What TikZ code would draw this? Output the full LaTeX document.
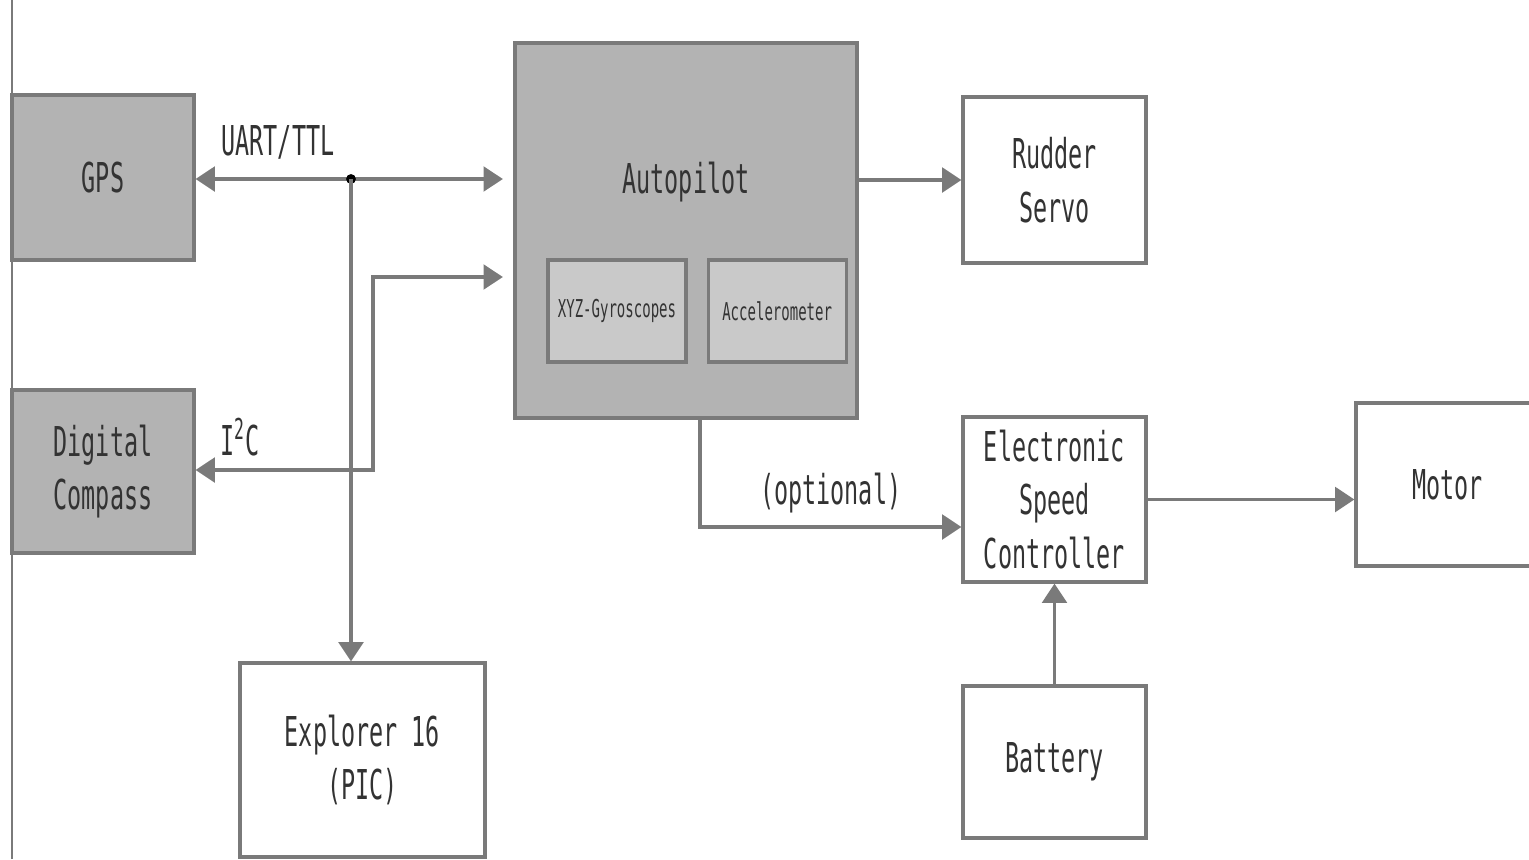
\documentclass[tikz,border=0pt]{standalone}
\usepackage{fontspec}
\setmainfont[FakeStretch=0.57]{DejaVu Sans Mono}
\usepackage{xcolor}
\usepackage{tikz}
\usetikzlibrary{arrows.meta, positioning}

\definecolor{boxgray}{HTML}{B3B3B3}
\definecolor{subgray}{HTML}{C9C9C9}
\definecolor{edgegray}{HTML}{7A7A7A}
\definecolor{textgray}{HTML}{333333}

\tikzset{
    block/.style={draw=edgegray, line width=0.9pt, minimum width=1.83cm, minimum height=1.65cm, inner sep=0pt, align=center, text=textgray, font=\fontsize{11.7pt}{15.3pt}\selectfont},
    dark_block/.style={block, fill=boxgray},
    sub_block/.style={block, fill=subgray, minimum width=1.38cm, minimum height=1.02cm, font=\fontsize{7pt}{8pt}\selectfont},
    label_text/.style={text=textgray, font=\fontsize{11.7pt}{15.3pt}\selectfont},
    link/.style={draw=edgegray, line width=1pt, -{Triangle[length=5.5pt, width=7pt]}},
}

\begin{document}
\begin{tikzpicture}

    \useasboundingbox (0,0) rectangle (15.29,8.59);

    % Page edge
    \draw[edgegray, line width=0.8pt] (0.12,0) -- (0.12,8.59);

    % Sensors
    \node[dark_block, minimum width=1.82cm] (gps) at (1.03,6.815) {GPS};
    \node[dark_block, minimum width=1.82cm, minimum height=1.63cm] (compass) at (1.03,3.875) {Digital\\Compass};

    % Autopilot with its inner parts
    \node[dark_block, minimum width=3.42cm, minimum height=3.75cm, label={[label_text, anchor=center, yshift=-1.41cm]north:Autopilot}] (autopilot) at (6.86,6.285) {};
    \node[sub_block] (gyro) at (6.17,5.48) {XYZ-Gyroscopes};
    \node[sub_block, right=0.19cm of gyro] (accel) {Accelerometer};

    % Actuators and power
    \node[block, minimum height=1.66cm] (rudder_servo) at (10.545,6.79) {Rudder\\Servo};
    \node[block] (esc) at (10.545,3.595) {Electronic\\Speed\\Controller};
    \node[block, minimum height=1.63cm] (motor) at (14.475,3.745) {Motor};
    \node[block, minimum height=1.52cm] (battery) at (10.545,0.97) {Battery};

    % Programmer board
    \node[block, minimum width=2.45cm, minimum height=1.94cm] (explorer) at (3.625,0.99) {Explorer 16\\(PIC)};

    % Bus labels
    \node[label_text] (uart_label) at (2.78,7.17) {UART/TTL};
    \node[label_text] (i2c_label) at (2.40,4.22) {I\textsuperscript{2}C};

    % Bus points
    \coordinate (tap) at (3.51,6.80);
    \coordinate (i2c_bend) at (3.73,5.82);

    % Arrows
    \draw[link, {Triangle[length=5.5pt, width=7pt]}-{Triangle[length=5.5pt, width=7pt]}, shorten >=3pt] (gps.east |- tap) -- (autopilot.west |- tap);
    \fill[black] (tap) circle (1.4pt);
    \draw[link] (tap) -- (tap |- explorer.north);
    \draw[link, {Triangle[length=5.5pt, width=7pt]}-{Triangle[length=5.5pt, width=7pt]}, shorten >=3pt] (compass.east |- 0,3.89) -| (i2c_bend) -- (autopilot.west |- i2c_bend);
    \draw[link] (autopilot.east |- rudder_servo.west) -- (rudder_servo.west);
    \draw[link] ([xshift=0.14cm]autopilot.south) |- ([yshift=-0.275cm]esc.west) node[pos=0.75, above, label_text] {(optional)};
    \draw[link] (esc.east) -- (esc.east -| motor.west);
    \draw[link] (battery) -- (esc);

\end{tikzpicture}
\end{document}
